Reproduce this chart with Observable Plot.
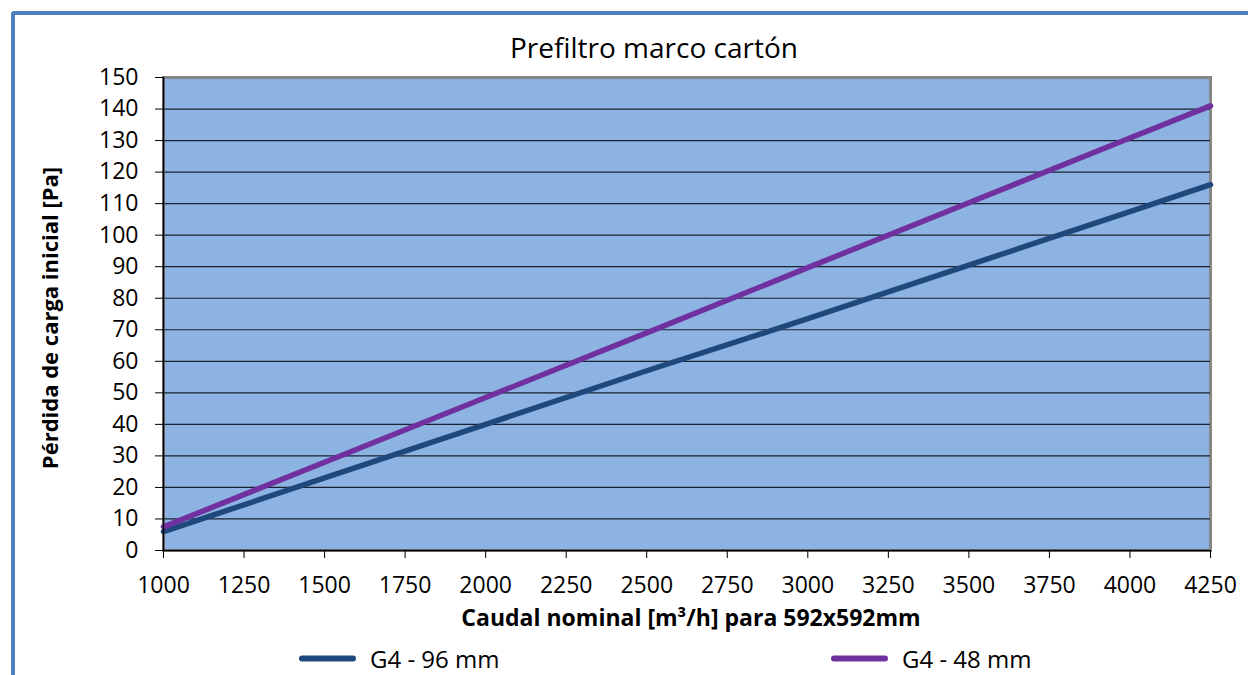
<!DOCTYPE html>
<html><head><meta charset="utf-8">
<script src="https://cdn.jsdelivr.net/npm/d3@7"></script>
<script src="https://cdn.jsdelivr.net/npm/@observablehq/plot@0.6"></script>
<style>
body{margin:0;background:#fff;font-family:"Open Sans",sans-serif;}
#wrap{position:relative;width:1248px;height:675px;overflow:hidden;background:#fff;}
#border{position:absolute;left:11px;top:11px;width:1260px;height:700px;border:4px solid #4F81BD;border-radius:3px;box-sizing:border-box;}
#chart{position:absolute;left:0;top:0;}
.t{position:absolute;white-space:nowrap;color:#000;}
#title{left:654px;top:47px;transform:translate(-50%,-50%);font-size:28px;}
#ylab{left:49px;top:318px;transform:translate(-50%,-50%) rotate(-90deg);font-weight:bold;font-size:22px;}
#xlab{left:691px;top:617px;transform:translate(-50%,-50%);font-weight:bold;font-size:23px;}
.leg{position:absolute;top:658px;transform:translateY(-50%);font-size:24px;display:flex;align-items:center;}
.sw{display:inline-block;width:57px;height:6px;border-radius:3px;margin-right:14px;}
</style></head><body>
<div id="wrap">
<div id="border"></div>
<div id="chart"></div>
<div class="t" id="title">Prefiltro marco cartón</div>
<div class="t" id="ylab">Pérdida de carga inicial [Pa]</div>
<div class="t" id="xlab">Caudal nominal [m³/h] para 592x592mm</div>
<div class="leg" style="left:299px"><span class="sw" style="background:#1F497D"></span>G4 - 96 mm</div>
<div class="leg" style="left:831px"><span class="sw" style="background:#7030A0"></span>G4 - 48 mm</div>
</div>
<script>
const caudal = [1000, 1500, 2000, 2500, 3000, 3500, 4000, 4250];
const g4_96 = [6, 23, 40, 57, 73.5, 90.5, 107.5, 116];
const g4_48 = [7.5, 28, 48.5, 69, 89.7, 110.3, 130.8, 141];
const xTicks = [1000,1250,1500,1750,2000,2250,2500,2750,3000,3250,3500,3750,4000,4250];
const yTicks = [0,10,20,30,40,50,60,70,80,90,100,110,120,130,140,150];
const gridTicks = yTicks.slice(1, -1);

const d96 = caudal.map((c,i)=>({x:c,y:g4_96[i]}));
const d48 = caudal.map((c,i)=>({x:c,y:g4_48[i]}));

const chart = Plot.plot({
  width:1248, height:675,
  marginLeft:163, marginRight:38, marginTop:77, marginBottom:125,
  style:{background:"transparent", fontFamily:"Open Sans, sans-serif", fontSize:"23px", color:"#000"},
  x:{domain:[1000,4250]},
  y:{domain:[0,150]},
  marks:[
    Plot.frame({fill:"#8DB3E2", stroke:"#868686", strokeWidth:3}),
    Plot.gridY(gridTicks, {stroke:"#1a2230", strokeOpacity:1, strokeWidth:1.2}),
    Plot.line(d96, {x:"x", y:"y", stroke:"#1F497D", strokeWidth:5.5}),
    Plot.line(d48, {x:"x", y:"y", stroke:"#7030A0", strokeWidth:5.5}),
    Plot.ruleX([1000], {stroke:"#000", strokeWidth:1.5}),
    Plot.ruleY([0], {stroke:"#000", strokeWidth:1.5}),
    Plot.axisX(xTicks, {tickSize:8, tickPadding:18, label:null, tickFormat:d=>String(d), stroke:"#000"}),
    Plot.axisY(yTicks, {tickSize:8, tickPadding:17, label:null, tickFormat:d=>String(d), stroke:"#000"})
  ]
});
document.getElementById("chart").appendChild(chart);
</script>
</body></html>
